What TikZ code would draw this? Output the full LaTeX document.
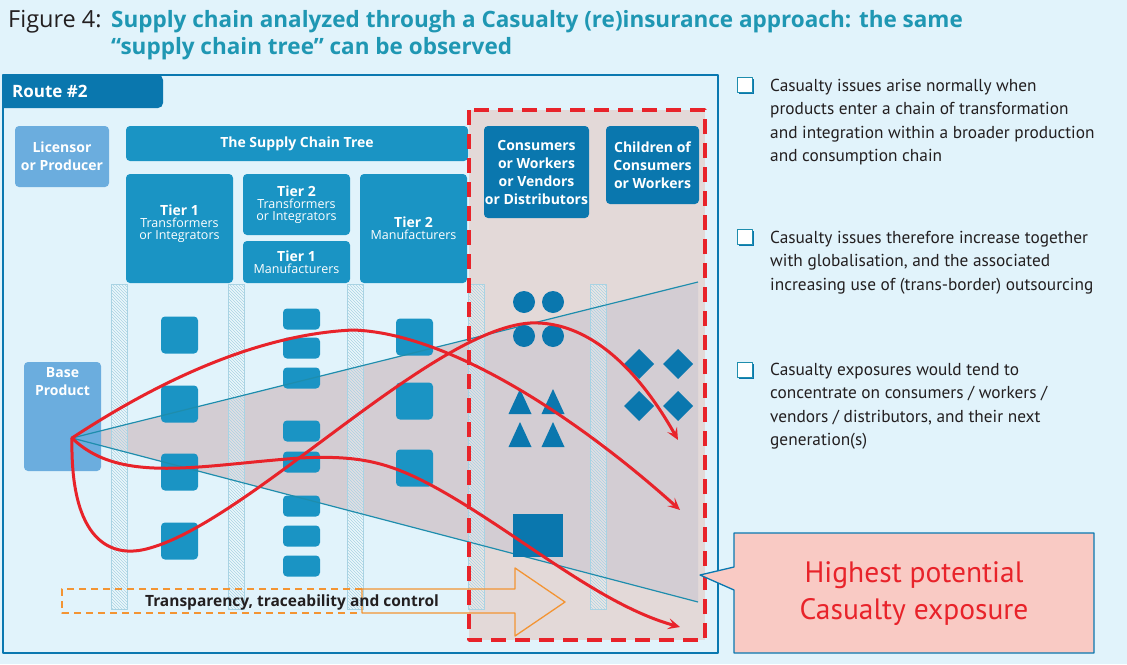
\documentclass[tikz,border=0pt]{standalone}
\usepackage{fontspec}
\setmainfont{PT Sans}
\newfontfamily\boxfont{Open Sans}
\usetikzlibrary{arrows.meta,patterns,positioning,shadows}
\definecolor{skybg}{HTML}{E1F3FB}
\definecolor{framebl}{HTML}{0A78B0}
\definecolor{midbl}{HTML}{1A94C4}
\definecolor{lightbl}{HTML}{6BADDE}
\definecolor{darkbl}{HTML}{0A77AE}
\definecolor{funnelln}{HTML}{1E8DAD}
\definecolor{titleteal}{HTML}{1F97B3}
\definecolor{zonefill}{HTML}{E3D9D8}
\definecolor{funnelfill}{HTML}{D3CDD3}
\definecolor{redline}{HTML}{E8232A}
\definecolor{orangeln}{HTML}{F39433}
\definecolor{calloutfill}{HTML}{F9CAC4}
\definecolor{textgray}{HTML}{231F20}
\definecolor{stripln}{HTML}{A9D3E3}
\newcommand\hdfont{\boxfont\bfseries\fontsize{14}{18}\selectfont}
\newcommand\smfont{\boxfont\fontsize{12.5}{15.5}\selectfont}
\tikzset{
  treebox/.style={fill=midbl, rounded corners=4pt, text=white, align=center, inner sep=0pt},
  tilesq/.style={fill=midbl, rounded corners=4pt, minimum size=37pt, inner sep=0pt},
  tilerect/.style={fill=midbl, rounded corners=4pt, minimum width=37pt, minimum height=21pt, inner sep=0pt},
  redcurve/.style={draw=redline, line width=3pt, line cap=round, -{Stealth[length=12pt,width=11pt,inset=5pt]}},
  chkbox/.style={draw=funnelln, fill=white, line width=1.2pt, minimum size=15pt, inner sep=0pt,
    drop shadow={shadow xshift=1.8pt, shadow yshift=-1.8pt, fill=darkbl, opacity=1}},
  bullettxt/.style={anchor=north west, align=left, inner sep=0pt, text=textgray, font=\fontsize{17.3}{23.4}\selectfont}
}
\begin{document}
\begin{tikzpicture}[x=1pt, y=-1pt, line join=round]
  \fill[skybg] (0,0) rectangle (1127,664);
  \useasboundingbox (0,0) rectangle (1127,664);
  % title
  \node[anchor=base west, inner sep=0pt, text=textgray, font=\boxfont\fontsize{23.5}{26}\selectfont] (figno) at (8,27) {Figure 4:};
  \node[anchor=base west, inner sep=0pt, text=titleteal, font=\boxfont\bfseries\fontsize{22.5}{26}\selectfont] (figttl) at (111,27) {Supply chain analyzed through a Casualty (re)insurance approach: the same};
  \node[anchor=base west, inner sep=0pt, text=titleteal, font=\boxfont\bfseries\fontsize{22.5}{26}\selectfont] (figttlb) at (111,54) {“supply chain tree” can be observed};
  % exposure zone and funnel
  \fill[zonefill] (469,110) rectangle (705,640);
  \coordinate (apex) at (72,438);
  \coordinate (fntop) at (698,282);
  \coordinate (fnbot) at (698,602);
  \fill[funnelfill] (apex) -- (fntop) -- (fnbot) -- cycle;
  % hatched separators
  \foreach \sx in {111,228,347,468,590} {
    \filldraw[fill=white, fill opacity=0.35, draw=stripln, line width=0.8pt] (\sx,284) rectangle (\sx+16,609);
    \fill[pattern=north west lines, pattern color=stripln] (\sx,284) rectangle (\sx+16,609);
  }
  % boxes
  \node[treebox, fill=lightbl, minimum width=94pt, minimum height=61pt, font=\hdfont] (licensor) at (62,156.5) {Licensor\\or Producer};
  \node[treebox, minimum width=342pt, minimum height=35pt, font=\hdfont] (sctree) at (297,143.5) {The Supply Chain Tree};
  \node[treebox, minimum width=107pt, minimum height=109pt] (tieronet) at (179.5,228.5) {{\hdfont Tier 1}\\{\smfont Transformers}\\{\smfont or Integrators}\\\mbox{}};
  \node[treebox, minimum width=107pt, minimum height=61pt] (tiertwot) at (296.5,204.5) {{\hdfont Tier 2}\\{\smfont Transformers}\\{\smfont or Integrators}};
  \node[treebox, minimum width=107pt, minimum height=42pt] (tieronem) at (296.5,262) {{\hdfont Tier 1}\\{\smfont Manufacturers}};
  \node[treebox, minimum width=107pt, minimum height=109pt] (tiertwom) at (413.5,228.5) {{\hdfont Tier 2}\\{\smfont Manufacturers}};
  \node[treebox, fill=darkbl, minimum width=105pt, minimum height=92pt, font=\hdfont] (consumers) at (536.5,172) {Consumers\\or Workers\\or Vendors\\or Distributors};
  \node[treebox, fill=darkbl, minimum width=93pt, minimum height=78pt, font=\hdfont] (children) at (652.5,165) {Children of\\Consumers\\or Workers};
  % tiles
  \foreach \sy [count=\k] in {335,404,472,541}
    \node[tilesq] (ta\k) at (179.5,\sy) {};
  \foreach \sy [count=\k] in {319,348,378,431,462,506,536,566}
    \node[tilerect] (tb\k) at (301.5,\sy) {};
  \foreach \sy [count=\k] in {337,401,468}
    \node[tilesq] (tc\k) at (414.5,\sy) {};
  % base product
  \node[treebox, fill=lightbl, minimum width=77pt, minimum height=109pt] (base) at (62.5,416.5) {};
  \node[font=\hdfont, text=white, align=center, inner sep=0pt, below=5pt of base.north] (baselbl) {Base\\Product};
  \draw[funnelln, line width=1.2pt] (fntop) -- (apex) -- (fnbot);
  % exposed people
  \foreach \cx in {524,553} \foreach \cy in {302,336}
    \fill[darkbl] (\cx,\cy) circle (11);
  \foreach \cx in {520,553} \foreach \cy in {389,422}
    \fill[darkbl] (\cx,\cy) -- (\cx+11.5,\cy+25) -- (\cx-11.5,\cy+25) -- cycle;
  \fill[darkbl] (513,514) rectangle (563,557);
  \foreach \cx in {639,678} \foreach \cy in {364,406}
    \fill[darkbl] (\cx,\cy-15) -- (\cx+15,\cy) -- (\cx,\cy+15) -- (\cx-15,\cy) -- cycle;
  % frame and tab
  \draw[framebl, line width=1.6pt] (3,75) rectangle (718,653);
  \fill[darkbl] (3,108) -- (3,75) [rounded corners=5pt] -- (163,75) -- (163,108) [sharp corners] -- cycle;
  \node[anchor=west, inner sep=0pt, text=white, font=\boxfont\bfseries\fontsize{17}{19}\selectfont] (route) at (12,91.5) {Route \#2};
  % transparency arrow
  \draw[orangeln, line width=1.3pt, dash pattern=on 7pt off 5pt] (362,589) -- (62,589) -- (62,613) -- (362,613);
  \draw[orangeln, line width=1.3pt] (362,589) -- (515,589) -- (515,568) -- (565,602) -- (515,636) -- (515,613) -- (362,613) -- cycle;
  \node[font=\boxfont\bfseries\fontsize{15.5}{18}\selectfont, text=textgray, inner sep=0pt] (trace) at (292,602) {Transparency, traceability and control};
  % routes to exposure
  \coordinate (enda) at (680,510);
  \coordinate (endb) at (678,440);
  \coordinate (endc) at (680,627);
  \draw[redcurve] (apex) .. controls (130,400) and (240,335) .. (353,330)
    .. controls (450,333) and (580,420) .. (enda);
  \draw[redcurve] (apex) .. controls (70,540) and (110,560) .. (150,548)
    .. controls (250,520) and (430,330) .. (530,323)
    .. controls (600,320) and (650,390) .. (endb);
  \draw[redcurve] (apex) .. controls (120,485) and (200,465) .. (300,458)
    .. controls (360,455) and (390,462) .. (440,490)
    .. controls (520,535) and (600,605) .. (endc);
  \draw[redline, line width=3.5pt, dash pattern=on 15pt off 9pt] (469,110) rectangle (705,640);
  % callout
  \draw[fill=calloutfill, draw=framebl, line width=1.3pt] (700,575) -- (734,567) -- (734,533) -- (1094,533) -- (1094,653) -- (734,653) -- (734,590) -- cycle;
  \node[text=redline, align=center, font=\fontsize{29.5}{37}\selectfont] (calltxt) at (914,594) {Highest potential\\Casualty exposure};
  % notes
  \node[chkbox] (chka) at (745,85) {};
  \node[chkbox] (chkb) at (745,237) {};
  \node[chkbox] (chkc) at (745,370) {};
  \node[bullettxt] (nota) at (770,79) {Casualty issues arise normally when\\products enter a chain of transformation\\and integration within a broader production\\and consumption chain};
  \node[bullettxt] (notb) at (770,231) {Casualty issues therefore increase together\\with globalisation, and the associated\\increasing use of (trans-border) outsourcing};
  \node[bullettxt] (notc) at (770,363) {Casualty exposures would tend to\\concentrate on consumers / workers /\\vendors / distributors, and their next\\generation(s)};
\end{tikzpicture}
\end{document}
